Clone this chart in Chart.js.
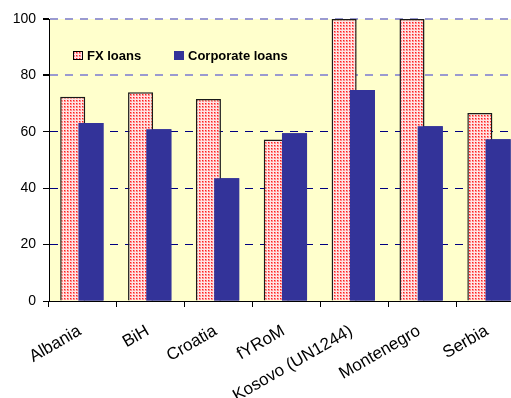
<!DOCTYPE html>
<html><head><meta charset="utf-8">
<script src="https://cdn.jsdelivr.net/npm/chart.js@4/dist/chart.umd.min.js"></script>
<style>html,body{margin:0;padding:0;background:#fff;overflow:hidden;}
#wrap{position:relative;width:524px;height:398px;}
</style></head><body>
<div id="wrap"><canvas id="c" width="524" height="398"></canvas></div>
<script>
const categories = ['Albania','BiH','Croatia','fYRoM','Kosovo (UN1244)','Montenegro','Serbia'];
const fxLoans = [72.4, 74.0, 71.6, 57.3, 100, 100, 66.7];
const corporateLoans = [63.1, 60.9, 43.5, 59.5, 74.8, 62.0, 57.4];
const seriesNames = ['FX loans', 'Corporate loans'];
const yMin = 0, yMax = 100, yStep = 20;

const FONT = "'Liberation Sans', Arial, sans-serif";
const CORP_COLOR = '#333399';
const PLOT_BG = '#ffffcc';

function makePattern() {
  const p = document.createElement('canvas');
  p.width = 3; p.height = 3;
  const g = p.getContext('2d');
  g.fillStyle = '#ffe4e4'; g.fillRect(0, 0, 3, 3);
  g.fillStyle = '#ff8c8c'; g.fillRect(1, 1, 2, 2);
  g.fillStyle = '#ff1e1e'; g.fillRect(1, 1, 1, 1);
  return g.createPattern(p, 'repeat');
}
const fxPattern = makePattern();

const plotBg = {
  id: 'plotBg',
  beforeDraw(chart) {
    const { ctx, chartArea: a } = chart;
    ctx.save();
    ctx.fillStyle = PLOT_BG;
    ctx.fillRect(a.left, a.top, a.right - a.left, a.bottom - a.top);
    ctx.restore();
  }
};

const corpOnTop = {
  id: 'corpOnTop',
  afterDatasetsDraw(chart) {
    const ctx = chart.ctx;
    const meta = chart.getDatasetMeta(1);
    ctx.save();
    meta.data.forEach(el => el.draw(ctx));
    ctx.restore();
  }
};

const innerLegend = {
  id: 'innerLegend',
  afterDraw(chart) {
    const { ctx, chartArea: a } = chart;
    const y = a.top + 32;
    const items = [
      { x: a.left + 24, fill: fxPattern, border: '#000', text: seriesNames[0] },
      { x: a.left + 125, fill: CORP_COLOR, border: null, text: seriesNames[1] }
    ];
    ctx.save();
    ctx.font = "bold 13px " + FONT;
    ctx.textBaseline = 'middle';
    ctx.textAlign = 'left';
    items.forEach(it => {
      ctx.fillStyle = it.fill;
      ctx.fillRect(it.x, y, 10, 9);
      if (it.border) {
        ctx.strokeStyle = it.border; ctx.lineWidth = 1;
        ctx.strokeRect(it.x + 0.5, y + 0.5, 9, 8);
      }
      ctx.fillStyle = '#000';
      ctx.fillText(it.text, it.x + 14, y + 5);
    });
    ctx.restore();
  }
};

new Chart(document.getElementById('c'), {
  type: 'bar',
  data: {
    labels: categories,
    datasets: [
      {
        label: seriesNames[0],
        data: fxLoans,
        backgroundColor: fxPattern,
        borderColor: '#1a1a1a',
        borderWidth: 1.5,
        categoryPercentage: 0.6025,
        barPercentage: 1.225
      },
      {
        label: seriesNames[1],
        data: corporateLoans,
        backgroundColor: CORP_COLOR,
        borderWidth: 0,
        categoryPercentage: 0.4725,
        barPercentage: 1.5625
      }
    ]
  },
  options: {
    responsive: false,
    animation: false,
    events: [],
    layout: { padding: { top: 19, right: 0, left: 0, bottom: 0 } },
    plugins: { legend: { display: false }, tooltip: { enabled: false } },
    scales: {
      x: {
        offset: true,
        grid: { offset: true, drawOnChartArea: false, drawTicks: true, tickLength: 6, color: '#000', tickColor: '#000' },
        border: { color: '#000', width: 1 },
        ticks: { color: '#000', font: { family: FONT, size: 17 }, minRotation: 30, maxRotation: 30, padding: 14, labelOffset: -3, autoSkip: false },
        afterFit(s) { s.height = 97; }
      },
      y: {
        min: yMin, max: yMax,
        ticks: { stepSize: yStep, color: '#000', font: { family: FONT, size: 14 }, padding: 7 },
        grid: {
          color: c => (c.tick && c.tick.value >= 80) ? '#9a9ad0' : '#000080',
          lineWidth: c => (c.tick && c.tick.value >= 80) ? 2 : 1,
          tickColor: '#000', tickLength: 6, drawTicks: true
        },
        border: { color: '#000', width: 1, dash: [8, 7] },
        afterFit(s) { s.width = 49; }
      }
    }
  },
  plugins: [plotBg, corpOnTop, innerLegend]
});
</script>
</body></html>
